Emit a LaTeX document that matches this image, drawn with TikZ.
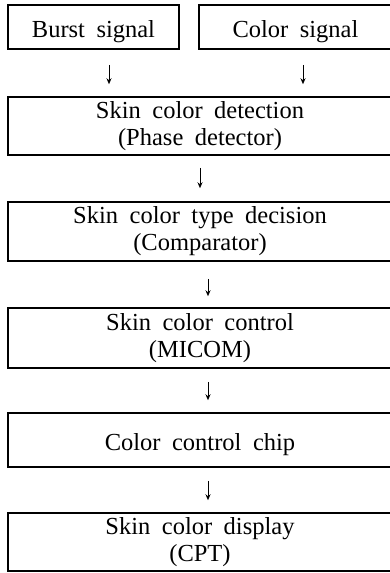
\documentclass[tikz,border=0pt]{standalone}
\usepackage{fontspec}
\setmainfont{Liberation Serif}
\usetikzlibrary{arrows.meta}
\newcommand\myboxfont{\fontsize{24.5}{27}\selectfont\spaceskip=11.5pt plus 2pt minus 2pt\relax}
\newcommand\mystrut{\rule{0pt}{27pt}}
\begin{document}
\begin{tikzpicture}[x=1pt,y=-1pt,
  box/.style={draw, line width=1.5pt, inner sep=0pt, align=center, font=\myboxfont,
    execute at begin node=\mystrut},
  arr/.style={line width=0.9pt, -{Stealth[length=6pt,width=5pt]}}]
\useasboundingbox (0,0) rectangle (390,573);
\node[box, minimum width=171pt, minimum height=44pt] (burst) at (93.5,27) {Burst signal};
\node[box, minimum width=193pt, minimum height=44pt] (color) at (295.5,27) {Color signal};
\node[box, minimum width=384pt, minimum height=58pt] (detect) at (200,126) {Skin color detection\\(Phase detector)};
\node[box, minimum width=384pt, minimum height=59pt] (type) at (200,231.5) {Skin color type decision\\(Comparator)};
\node[box, minimum width=384pt, minimum height=60pt] (ctrl) at (200,338) {Skin color control\\(MICOM)};
\node[box, minimum width=384pt, minimum height=54pt] (chip) at (200,440) {Color control chip};
\node[box, minimum width=384pt, minimum height=58pt] (disp) at (200,542) {Skin color display\\(CPT)};
\draw[arr, shorten <=15pt, shorten >=12pt] ([xshift=15.5pt]burst.south) -- ([xshift=15.5pt]burst.south |- detect.north);
\draw[arr, shorten <=15pt, shorten >=12pt] ([xshift=7.5pt]color.south) -- ([xshift=7.5pt]color.south |- detect.north);
\draw[arr, shorten <=12pt, shorten >=13pt] (detect.south) -- (type.north);
\draw[arr, shorten <=17pt, shorten >=11pt] ([xshift=8pt]type.south) -- ([xshift=8pt]ctrl.north);
\draw[arr, shorten <=13pt, shorten >=12pt] ([xshift=8pt]ctrl.south) -- ([xshift=8pt]chip.north);
\draw[arr, shorten <=13pt, shorten >=12pt] ([xshift=8pt]chip.south) -- ([xshift=8pt]disp.north);
\end{tikzpicture}
\end{document}
